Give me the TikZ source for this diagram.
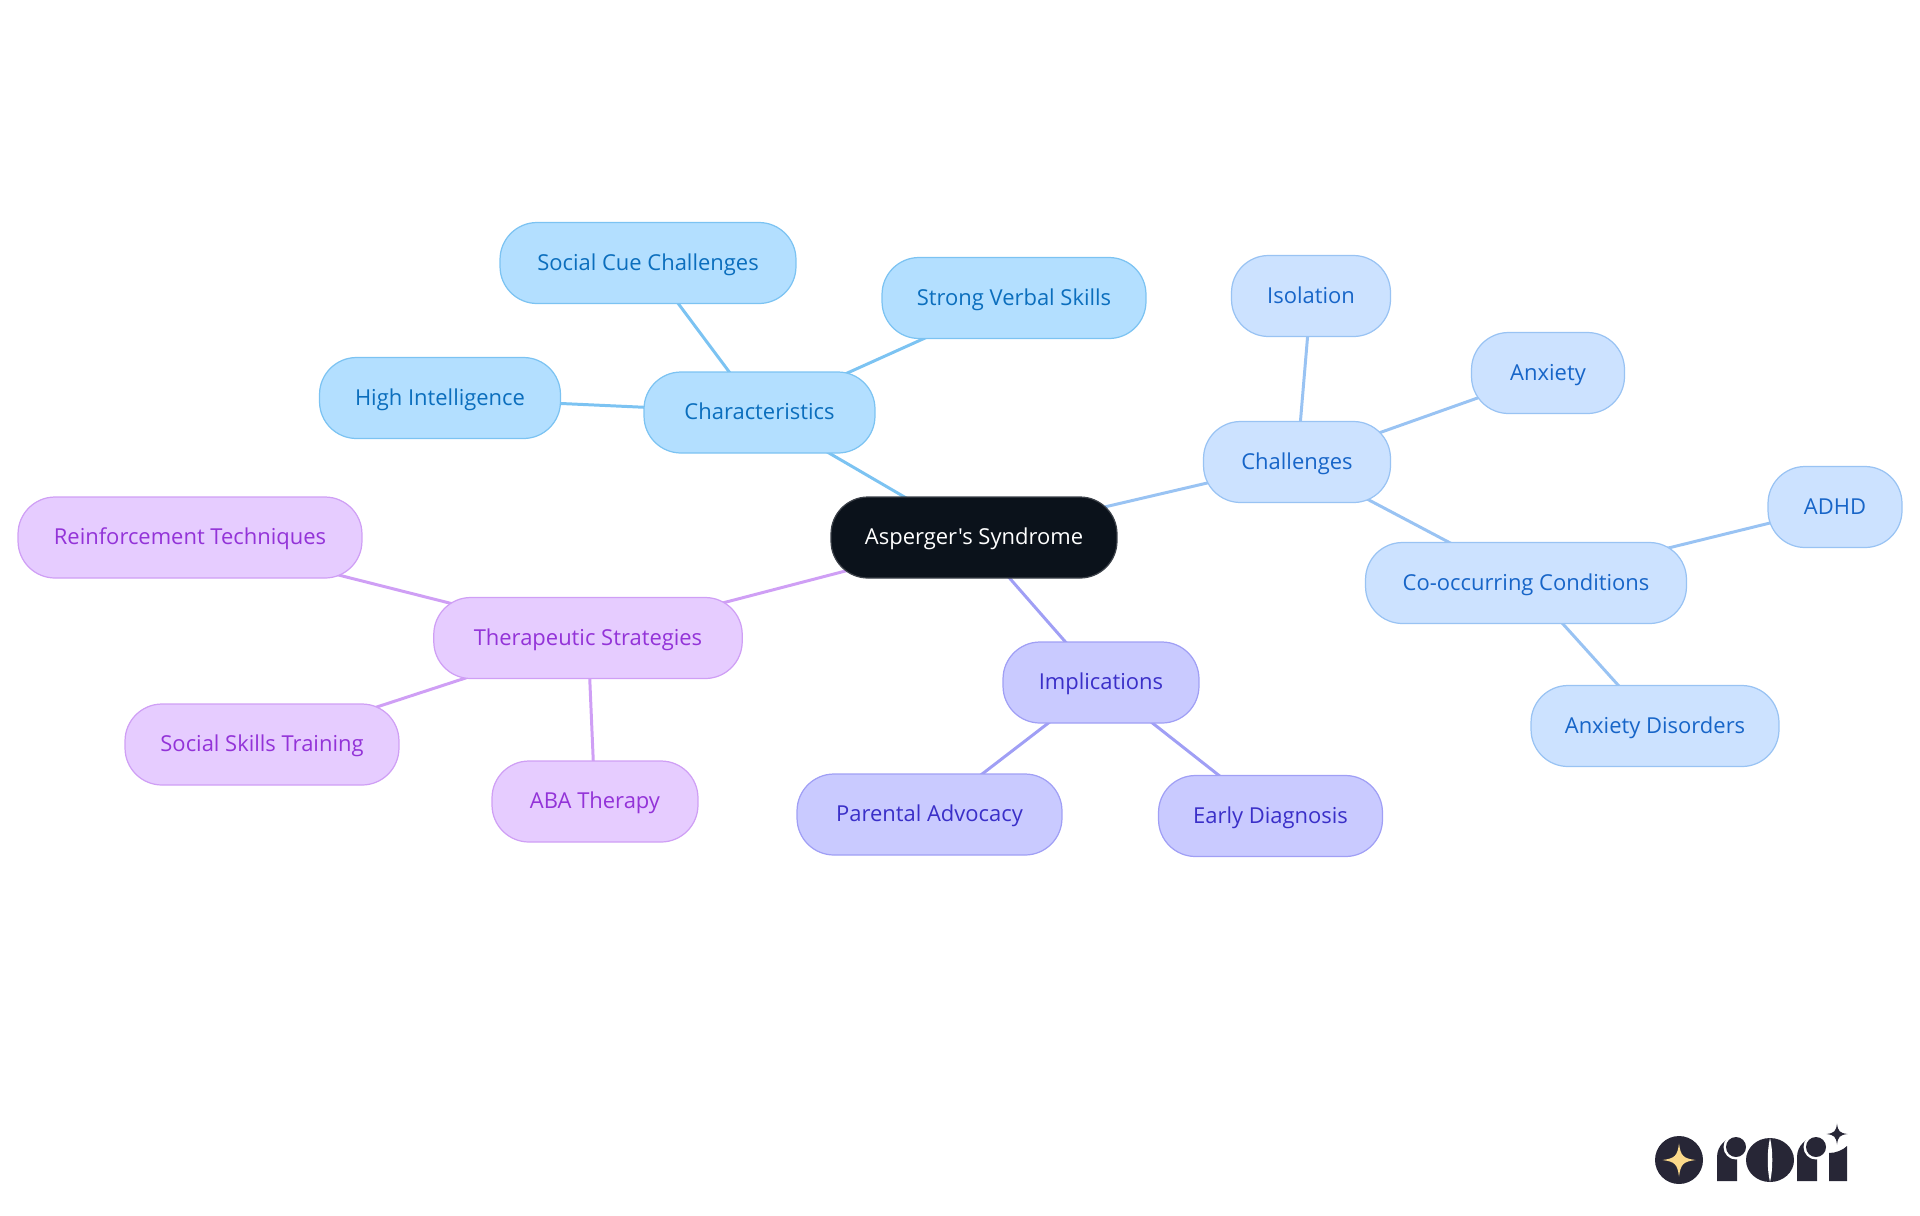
\documentclass[tikz,border=0pt]{standalone}
\usepackage{fontspec}
\newfontfamily\mapfont{Open Sans}
\usetikzlibrary{backgrounds}
\definecolor{rootfill}{HTML}{0B121B}
\definecolor{charfill}{HTML}{B3DFFF}
\definecolor{charline}{HTML}{7CC3F2}
\definecolor{chartext}{HTML}{0B6EBD}
\definecolor{chalfill}{HTML}{CCE2FF}
\definecolor{challine}{HTML}{99C3F3}
\definecolor{chaltext}{HTML}{1765C8}
\definecolor{implfill}{HTML}{C9CAFF}
\definecolor{impline}{HTML}{A09FF5}
\definecolor{impltext}{HTML}{3A2FC8}
\definecolor{therfill}{HTML}{E6CCFF}
\definecolor{therline}{HTML}{CF9FF5}
\definecolor{thertext}{HTML}{9333D8}
\definecolor{logodark}{HTML}{272636}
\definecolor{logostar}{HTML}{FBD98A}
\tikzset{
  mapbox/.style={rounded corners=0.74cm, minimum height=1.62cm, inner sep=0pt,
    text height=11pt, text depth=3pt, font=\mapfont\fontsize{12.5}{14}\selectfont, line width=0.7pt},
  rootbox/.style={mapbox, fill=rootfill, draw=rootfill!80!white, text=white},
  charbox/.style={mapbox, fill=charfill, draw=charline, text=chartext},
  chalbox/.style={mapbox, fill=chalfill, draw=challine, text=chaltext},
  implbox/.style={mapbox, fill=implfill, draw=impline, text=impltext},
  therbox/.style={mapbox, fill=therfill, draw=therline, text=thertext},
  charedge/.style={line width=1.7pt, draw=charline},
  chaledge/.style={line width=1.7pt, draw=challine},
  impledge/.style={line width=1.7pt, draw=impline},
  theredge/.style={line width=1.7pt, draw=therline},
  sparkle/.pic={\fill (-1,0) .. controls (-0.25,-0.1) and (-0.1,-0.25) .. (0,-1)
    .. controls (0.1,-0.25) and (0.25,-0.1) .. (1,0)
    .. controls (0.25,0.1) and (0.1,0.25) .. (0,1)
    .. controls (-0.1,0.25) and (-0.25,0.1) .. (-1,0) -- cycle;}
}
\begin{document}
\begin{tikzpicture}[x=0.02cm,y=-0.02cm]
  \useasboundingbox (0,0) rectangle (1920,1215);
  \draw[draw=none]
    (974,537.5) node[rootbox, minimum width=5.72cm] (root){Asperger's Syndrome}
    (759.5,412.5) node[charbox, minimum width=4.62cm] (char){Characteristics}
    (648,263) node[charbox, minimum width=5.92cm] (cue){Social Cue Challenges}
    (1014,298) node[charbox, minimum width=5.28cm] (verbal){Strong Verbal Skills}
    (440,398) node[charbox, minimum width=4.82cm] (high){High Intelligence}
    (1297,462) node[chalbox, minimum width=3.74cm] (chal){Challenges}
    (1311,296) node[chalbox, minimum width=3.18cm] (isol){Isolation}
    (1548,373) node[chalbox, minimum width=3.06cm] (anx){Anxiety}
    (1835,507) node[chalbox, minimum width=2.68cm] (adhd){ADHD}
    (1526,583) node[chalbox, minimum width=6.42cm] (cooc){Co-occurring Conditions}
    (1655,726) node[chalbox, minimum width=4.96cm] (anxdis){Anxiety Disorders}
    (190,537.5) node[therbox, minimum width=6.88cm] (reinf){Reinforcement Techniques}
    (588,638) node[therbox, minimum width=6.17cm] (ther){Therapeutic Strategies}
    (262,744.5) node[therbox, minimum width=5.48cm] (social){Social Skills Training}
    (595,801.5) node[therbox, minimum width=4.12cm] (aba){ABA Therapy}
    (1101,682.5) node[implbox, minimum width=3.92cm] (impl){Implications}
    (929.5,814.5) node[implbox, minimum width=5.3cm] (parent){Parental Advocacy}
    (1270.5,816) node[implbox, minimum width=4.48cm] (early){Early Diagnosis};
  \begin{scope}[on background layer]
    \draw[charedge] (root.center) to (char.center);
    \draw[charedge] (char.center) to (cue.center);
    \draw[charedge] (char.center) to (verbal.center);
    \draw[charedge] (char.center) to (high.center);
    \draw[chaledge] (root.center) to (chal.center);
    \draw[chaledge] (chal.center) to (isol.center);
    \draw[chaledge] (chal.center) to (anx.center);
    \draw[chaledge] (chal.center) to (cooc.center);
    \draw[chaledge] (cooc.center) to (adhd.center);
    \draw[chaledge] (cooc.center) to (anxdis.center);
    \draw[theredge] (root.center) to (ther.center);
    \draw[theredge] (ther.center) to (reinf.center);
    \draw[theredge] (ther.center) to (social.center);
    \draw[theredge] (ther.center) to (aba.center);
    \draw[impledge] (root.center) to (impl.center);
    \draw[impledge] (impl.center) to (parent.center);
    \draw[impledge] (impl.center) to (early.center);
  \end{scope}
  % logo
  \fill[logodark] (1679,1160) circle [radius=24];
  \path (1679,1160) pic[logostar, scale=16.5] {sparkle};
  \fill[logodark] (1717,1181) -- (1717,1157) arc[start angle=180, end angle=270, radius=20] -- (1737,1181) -- cycle;
  \fill[white] (1736,1147) circle [radius=12.5];
  \fill[logodark] (1736,1147) circle [radius=10];
  \fill[logodark] (1770,1160) ellipse [x radius=24, y radius=22];
  \fill[white] (1770,1138) .. controls (1767,1150) and (1767,1170) .. (1770,1182)
    .. controls (1773,1170) and (1773,1150) .. (1770,1138) -- cycle;
  \fill[logodark] (1797,1181) -- (1797,1157) arc[start angle=180, end angle=270, radius=20] -- (1817,1181) -- cycle;
  \fill[white] (1816,1147) circle [radius=12.5];
  \fill[logodark] (1816,1147) circle [radius=10];
  \fill[logodark] (1829,1181) -- (1829,1153) .. controls (1836,1153) and (1843,1150) .. (1847,1146) -- (1847,1181) -- cycle;
  \path (1837,1134) pic[logodark, scale=10.5] {sparkle};
\end{tikzpicture}
\end{document}
